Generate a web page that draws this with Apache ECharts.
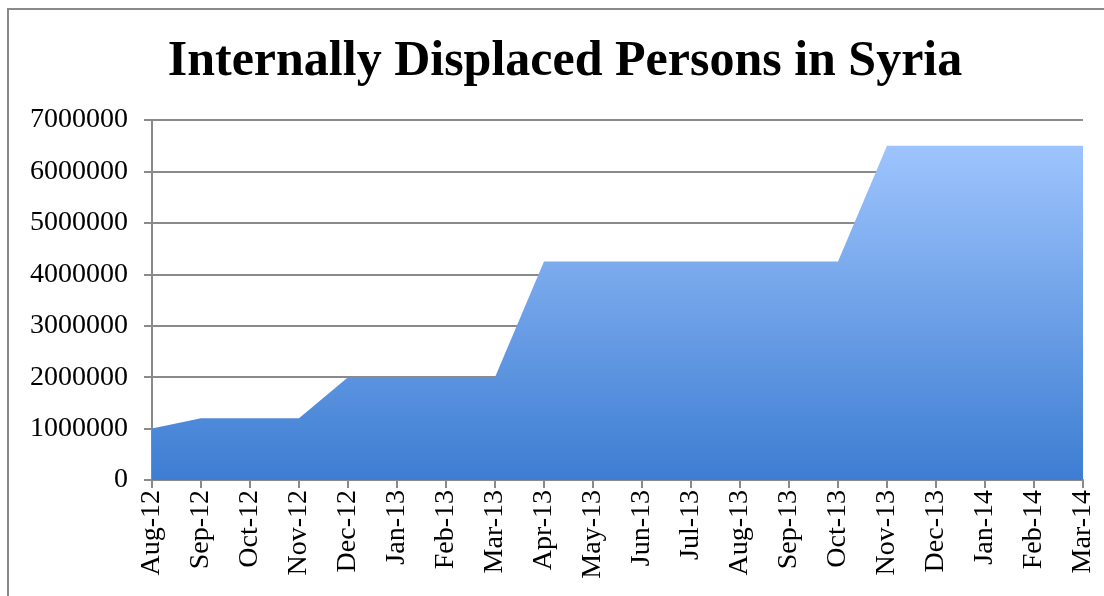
<!DOCTYPE html>
<html>
<head>
<meta charset="utf-8">
<script src="https://cdn.jsdelivr.net/npm/echarts@6/dist/echarts.min.js"></script>
<style>
  html, body { margin: 0; padding: 0; background: #fff; }
  #main { width: 1104px; height: 596px; }
</style>
</head>
<body>
<div id="main"></div>
<script>
var months = ['Aug-12', 'Sep-12', 'Oct-12', 'Nov-12', 'Dec-12', 'Jan-13', 'Feb-13', 'Mar-13',
  'Apr-13', 'May-13', 'Jun-13', 'Jul-13', 'Aug-13', 'Sep-13', 'Oct-13', 'Nov-13',
  'Dec-13', 'Jan-14', 'Feb-14', 'Mar-14'];
var idpCount = [1000000, 1200000, 1200000, 1200000, 2000000, 2000000, 2000000, 2000000,
  4250000, 4250000, 4250000, 4250000, 4250000, 4250000, 4250000, 6500000,
  6500000, 6500000, 6500000, 6500000];

var chart = echarts.init(document.getElementById('main'));
var serif = '"Liberation Serif", "DejaVu Serif", serif';

var option = {
  backgroundColor: '#fff',
  animation: false,
  title: {
    text: 'Internally Displaced Persons in Syria',
    left: 560,
    textAlign: 'center',
    top: 32,
    textStyle: { fontFamily: serif, fontWeight: 'bold', fontSize: 50, color: '#000' }
  },
  graphic: [{
    // outer chart frame (right/bottom edges are off-picture)
    type: 'rect',
    shape: { x: 8, y: 9, width: 1200, height: 700 },
    style: { fill: 'none', stroke: '#8a8a8a', lineWidth: 2 },
    z: -1
  }],
  grid: { left: 152, right: 21, top: 120, bottom: 116 },
  xAxis: {
    type: 'category',
    data: months,
    boundaryGap: false,
    axisLine: { lineStyle: { color: '#8a8a8a', width: 2 } },
    axisTick: { show: true, length: 8, lineStyle: { color: '#8a8a8a', width: 2 } },
    axisLabel: { rotate: 90, interval: 0, margin: 10, fontFamily: serif, fontSize: 28, color: '#000' }
  },
  yAxis: {
    type: 'value',
    min: 0,
    max: 7000000,
    interval: 1000000,
    axisLine: { show: true, lineStyle: { color: '#8a8a8a', width: 2 } },
    axisTick: { show: true, length: 8, lineStyle: { color: '#8a8a8a', width: 2 } },
    splitLine: { lineStyle: { color: '#8a8a8a', width: 2 } },
    axisLabel: {
      margin: 24, fontFamily: serif, fontSize: 28, color: '#000',
      formatter: function (v) { return String(v); }
    }
  },
  series: [{
    type: 'line',
    data: idpCount,
    symbol: 'none',
    lineStyle: { width: 0 },
    areaStyle: {
      opacity: 1,
      color: new echarts.graphic.LinearGradient(0, 0, 0, 1, [
        { offset: 0, color: '#9ec4fd' },
        { offset: 1, color: '#3d7dd2' }
      ])
    },
    z: 3
  }]
};

chart.setOption(option);
</script>
</body>
</html>
